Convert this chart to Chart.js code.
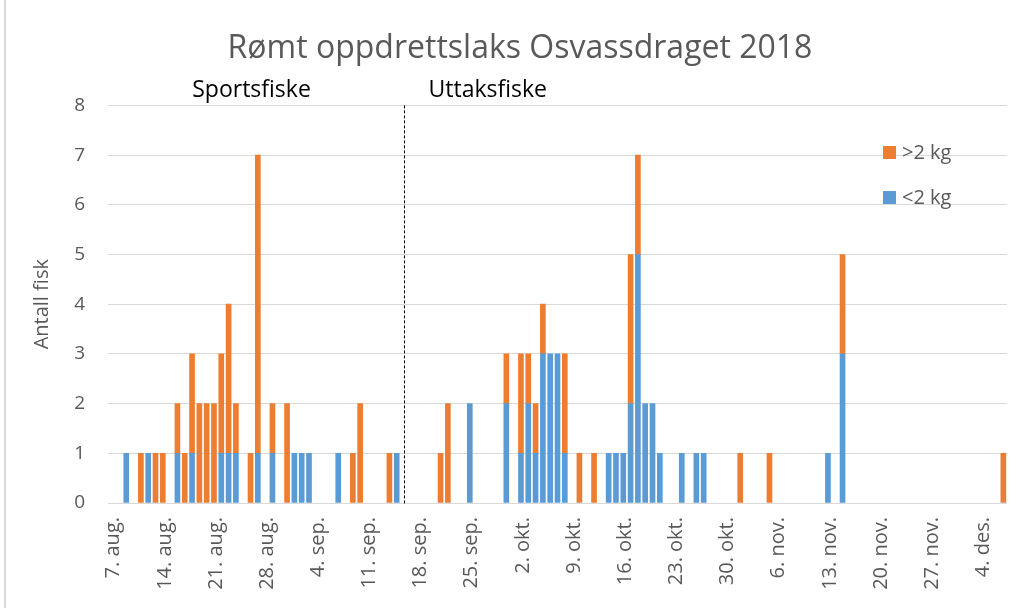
<!DOCTYPE html>
<html>
<head>
<meta charset="utf-8">
<script src="https://cdn.jsdelivr.net/npm/chart.js@4.4.1/dist/chart.umd.min.js"></script>
<style>
  html, body { margin: 0; padding: 0; background: #fff; }
  #wrap { width: 1024px; height: 608px; }
</style>
</head>
<body>
<div id="wrap"><canvas id="fishChart" width="1024" height="608"></canvas></div>
<script>

/* ================================
   DATA
================================ */

const firstDay = "2018-08-07";
const lastDay = "2018-12-07";
const splitDay = "2018-09-16";   // sportsfiske -> uttaksfiske
const monthNames = ["jan.", "feb.", "mar.", "apr.", "mai", "jun.", "jul.", "aug.", "sep.", "okt.", "nov.", "des."];

const catchDates = [
    "2018-08-09", "2018-08-11", "2018-08-12", "2018-08-13", "2018-08-14",
    "2018-08-16", "2018-08-17", "2018-08-18", "2018-08-19", "2018-08-20",
    "2018-08-21", "2018-08-22", "2018-08-23", "2018-08-24", "2018-08-26",
    "2018-08-27", "2018-08-29", "2018-08-31", "2018-09-01", "2018-09-02",
    "2018-09-03", "2018-09-07", "2018-09-09", "2018-09-10", "2018-09-14",
    "2018-09-15", "2018-09-21", "2018-09-22", "2018-09-25", "2018-09-30",
    "2018-10-02", "2018-10-03", "2018-10-04", "2018-10-05", "2018-10-06",
    "2018-10-07", "2018-10-08", "2018-10-10", "2018-10-12", "2018-10-14",
    "2018-10-15", "2018-10-16", "2018-10-17", "2018-10-18", "2018-10-19",
    "2018-10-20", "2018-10-21", "2018-10-24", "2018-10-26", "2018-10-27",
    "2018-11-01", "2018-11-05", "2018-11-13", "2018-11-15", "2018-12-07"
];

const under2kg = [
    1, 0, 1, 0, 0,
    1, 0, 1, 0, 0,
    0, 1, 1, 1, 0,
    1, 1, 0, 1, 1,
    1, 1, 0, 0, 0,
    1, 0, 0, 2, 2,
    1, 2, 1, 3, 3,
    3, 1, 0, 0, 1,
    1, 1, 2, 5, 2,
    2, 1, 1, 1, 1,
    0, 0, 1, 3, 0
];

const over2kg = [
    0, 1, 0, 1, 1,
    1, 1, 2, 2, 2,
    2, 2, 3, 1, 1,
    6, 1, 2, 0, 0,
    0, 0, 1, 2, 1,
    0, 1, 2, 0, 1,
    2, 1, 1, 1, 0,
    0, 2, 1, 1, 0,
    0, 0, 3, 2, 0,
    0, 0, 0, 0, 0,
    1, 1, 0, 2, 1
];

const yTicks = [0, 1, 2, 3, 4, 5, 6, 7, 8];


/* ================================
   BUILD DAILY SERIES
================================ */

function dayNumber(iso){
    const p = iso.split("-").map(Number);
    return Date.UTC(p[0], p[1] - 1, p[2]) / 86400000;
}

const startNo = dayNumber(firstDay);
const dayCount = dayNumber(lastDay) - startNo + 1;

const dayLabels = [];
const smallSeries = [];
const largeSeries = [];

for(let i = 0; i < dayCount; i++){
    const dt = new Date((startNo + i) * 86400000);
    dayLabels.push(dt.getUTCDate() + ". " + monthNames[dt.getUTCMonth()]);
    smallSeries.push(null);
    largeSeries.push(null);
}

catchDates.forEach((d, k)=>{
    const i = dayNumber(d) - startNo;
    if(under2kg[k]) smallSeries[i] = under2kg[k];
    if(over2kg[k]) largeSeries[i] = over2kg[k];
});

const splitIndex = dayNumber(splitDay) - startNo;


/* ================================
   EXTRA DRAWING (split line, labels, legend)
================================ */

const extras = {
    id: "extras",

    beforeDraw(chart){
        const ctx = chart.ctx;
        ctx.save();
        ctx.fillStyle = "#d9d9d9";
        ctx.fillRect(4, 0, 2, chart.height);
        ctx.restore();
    },

    afterDatasetsDraw(chart){
        const {ctx, chartArea, scales} = chart;
        const splitX = Math.round(scales.x.getPixelForValue(splitIndex)) + 0.5;

        ctx.save();

        // dashed split line
        ctx.strokeStyle = "#000";
        ctx.lineWidth = 1;
        ctx.setLineDash([3, 2]);
        ctx.beginPath();
        ctx.moveTo(splitX, chartArea.top);
        ctx.lineTo(splitX, chartArea.bottom + 2);
        ctx.stroke();
        ctx.setLineDash([]);

        // period labels
        ctx.fillStyle = "#000";
        ctx.font = "23px 'Open Sans'";
        ctx.textBaseline = "alphabetic";
        ctx.textAlign = "center";
        ctx.fillText("Sportsfiske", splitX - 153, chartArea.top - 8);
        ctx.textAlign = "left";
        ctx.fillText("Uttaksfiske", splitX + 24, chartArea.top - 8);

        // legend
        const items = [
            {text: ">2 kg", color: "#ED7D31", y: 153},
            {text: "<2 kg", color: "#5B9BD5", y: 198}
        ];
        ctx.font = "20px 'Open Sans'";
        ctx.textBaseline = "middle";
        items.forEach(it=>{
            ctx.fillStyle = it.color;
            ctx.fillRect(883, it.y - 7, 13, 13);
            ctx.fillStyle = "#595959";
            ctx.fillText(it.text, 902, it.y);
        });

        ctx.restore();
    }
};


/* ================================
   CHART
================================ */

const canvas = document.getElementById("fishChart");

new Chart(canvas.getContext("2d"), {

    type: "bar",

    data: {
        labels: dayLabels,
        datasets: [
            {
                label: "<2 kg",
                data: smallSeries,
                backgroundColor: "#5B9BD5",
                barThickness: 5,
                stack: "fisk"
            },
            {
                label: ">2 kg",
                data: largeSeries,
                backgroundColor: "#ED7D31",
                barThickness: 5,
                stack: "fisk"
            }
        ]
    },

    options: {
        responsive: false,
        animation: false,
        layout: {
            padding: {left: 33, right: 17, top: 0, bottom: 0}
        },
        plugins: {
            legend: {display: false},
            tooltip: {enabled: false},
            title: {
                display: true,
                text: "Rømt oppdrettslaks Osvassdraget 2018",
                color: "#595959",
                font: {family: "Open Sans", size: 32, weight: "normal"},
                padding: {top: 30, bottom: 37}
            }
        },
        scales: {
            x: {
                stacked: true,
                grid: {display: false, drawTicks: false},
                border: {display: false},
                ticks: {
                    autoSkip: false,
                    maxRotation: 90,
                    minRotation: 90,
                    padding: 14,
                    labelOffset: 2,
                    color: "#595959",
                    font: {family: "Open Sans", size: 20},
                    callback: (v, i)=> i % 7 === 0 ? dayLabels[i] : ""
                },
                afterFit: s=>{
                    s.height = 105;
                    s.paddingLeft = 0;
                    s.paddingRight = 0;
                }
            },
            y: {
                stacked: true,
                min: yTicks[0],
                max: yTicks[yTicks.length - 1],
                grid: {color: "#d9d9d9", lineWidth: 1, drawTicks: false},
                border: {display: false},
                ticks: {
                    stepSize: 1,
                    padding: 23,
                    color: "#595959",
                    font: {family: "Open Sans", size: 19}
                },
                afterBuildTicks: s=>{ s.ticks = yTicks.map(v=>({value: v})); },
                title: {
                    display: true,
                    text: "Antall fisk",
                    color: "#595959",
                    font: {family: "Open Sans", size: 20},
                    padding: {top: -3, bottom: 0}
                },
                afterFit: s=>{ s.width = 75; }
            }
        }
    },

    plugins: [extras]

});

</script>
</body>
</html>
